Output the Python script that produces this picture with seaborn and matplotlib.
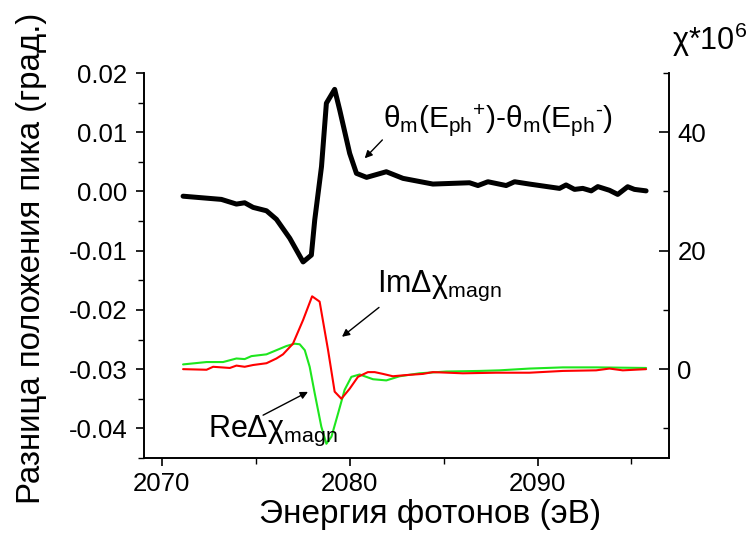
import matplotlib
matplotlib.use("Agg")
import matplotlib.pyplot as plt
from matplotlib.ticker import MultipleLocator
import seaborn as sns

# Peak-position difference (left axis, degrees)
theta_energy = [2071.13, 2073.17, 2073.97, 2074.41, 2074.86, 2075.57, 2076.10, 2076.81,
                2077.52, 2077.96, 2078.14, 2078.50, 2078.76, 2079.20, 2079.47, 2080.00,
                2080.36, 2080.90, 2081.95, 2082.84, 2084.43, 2086.38, 2086.83, 2087.36,
                2088.33, 2088.78, 2089.57, 2091.17, 2091.52, 2091.97, 2092.41, 2092.86,
                2093.21, 2093.83, 2094.27, 2094.80, 2095.16, 2095.78]
theta_diff = [-0.0008, -0.00134, -0.00213, -0.00191, -0.00269, -0.00326, -0.0047, -0.0079,
              -0.0119, -0.01074, -0.0048, 0.0042, 0.0149, 0.01724, 0.01375, 0.00643,
              0.00306, 0.00238, 0.00333, 0.00221, 0.00125, 0.00147, 0.0010, 0.00164,
              0.0010, 0.00164, 0.00125, 0.00052, 0.0011, 0.00035, 0.00052, 0.0001,
              0.00082, 0.0002, -0.0005, 0.0008, 0.00035, 0.0001]

# Imaginary part of magnetic susceptibility change (right axis, x1e6)
im_energy = [2071.13, 2072.38, 2072.73, 2073.62, 2073.97, 2074.41, 2074.86, 2075.57,
             2076.10, 2076.45, 2076.98, 2077.52, 2078.00, 2078.40, 2078.85, 2079.20,
             2079.56, 2080.00, 2080.44, 2080.97, 2081.33, 2081.77, 2082.30, 2083.00,
             2083.90, 2084.43, 2086.03, 2087.80, 2089.57, 2091.35, 2093.12, 2093.83,
             2094.54, 2095.78]
im_chi = [0.0, -0.1, 0.4, 0.2, 0.6, 0.4, 0.7, 1.0,
          1.8, 2.5, 4.3, 8.3, 12.3, 11.4, 3.2, -3.8,
          -5.0, -3.3, -1.3, -0.5, -0.5, -0.8, -1.2, -1.0,
          -0.8, -0.5, -0.7, -0.6, -0.6, -0.3, -0.2, 0.1,
          -0.2, 0.0]

# Real part of magnetic susceptibility change (right axis, x1e6)
re_energy = [2071.13, 2072.38, 2073.26, 2073.97, 2074.41, 2074.77, 2075.57, 2076.10,
             2076.63, 2077.07, 2077.34, 2077.61, 2077.87, 2078.14, 2078.49, 2078.76,
             2079.03, 2079.38, 2079.73, 2080.09, 2080.53, 2081.24, 2081.95, 2082.66,
             2083.72, 2085.14, 2086.91, 2087.98, 2089.57, 2091.35, 2093.12, 2095.78]
re_chi = [0.8, 1.2, 1.2, 1.8, 1.7, 2.2, 2.5, 3.2,
          3.9, 4.3, 4.2, 3.2, 0.4, -4.1, -9.7, -12.6,
          -11.4, -7.5, -3.5, -1.3, -0.9, -1.7, -1.9, -1.2,
          -0.7, -0.4, -0.3, -0.2, 0.1, 0.3, 0.3, 0.2]

x_ticks = [2070, 2080, 2090]
left_ticks = [0.02, 0.01, 0.00, -0.01, -0.02, -0.03, -0.04]
left_ticklabels = ["0.02", "0.01", "0.00", "-0.01", "-0.02", "-0.03", "-0.04"]
right_ticks = [0, 20, 40]

sns.set_style("ticks")
plt.rcParams["font.family"] = ["Liberation Sans", "DejaVu Sans"]
plt.rcParams["mathtext.default"] = "regular"
plt.rcParams["text.color"] = "black"
plt.rcParams["axes.labelcolor"] = "black"
plt.rcParams["xtick.color"] = "black"
plt.rcParams["ytick.color"] = "black"

fig = plt.figure(figsize=(7.53, 5.35), dpi=100)
W, H = 753, 535
ax = fig.add_axes([144 / W, 1 - 458 / H, (669 - 144) / W, (458 - 73) / H])
ax2 = ax.twinx()

sns.lineplot(x=theta_energy, y=theta_diff, ax=ax, color="black", lw=3.6, estimator=None)
sns.lineplot(x=re_energy, y=re_chi, ax=ax2, color="#1ee61e", lw=1.5, estimator=None)
sns.lineplot(x=im_energy, y=im_chi, ax=ax2, color="#ff0000", lw=1.5, estimator=None)

ax.set_xlim(2069.05, 2097.0)
ax.set_ylim(-0.045, 0.02)
ax2.set_ylim(-15, 50)

ax.set_xticks(x_ticks)
ax.set_xticklabels([str(t) for t in x_ticks])
ax.xaxis.set_minor_locator(MultipleLocator(5))
ax.set_yticks(left_ticks)
ax.set_yticklabels(left_ticklabels)
ax.yaxis.set_minor_locator(MultipleLocator(0.005))
ax2.set_yticks(right_ticks)
ax2.set_yticklabels([str(t) for t in right_ticks])
ax2.yaxis.set_minor_locator(MultipleLocator(10))

for a in (ax, ax2):
    a.spines["top"].set_visible(False)
    for s in a.spines.values():
        s.set_linewidth(1.2)
        s.set_color("black")

ax.tick_params(axis="both", which="major", direction="out", length=6, width=1.2,
               labelsize=18.5, pad=5)
ax.tick_params(axis="y", which="major", pad=6)
ax.tick_params(axis="x", which="major", pad=4)
ax.tick_params(axis="both", which="minor", direction="out", length=4, width=1.0)
ax.tick_params(axis="y", which="both", right=False)
ax2.tick_params(axis="y", which="major", direction="in", length=7, width=1.2,
                labelsize=18.5, pad=6)
ax2.tick_params(axis="y", which="minor", direction="in", length=4, width=1.0)

ax.set_xlabel("Энергия фотонов (эВ)", fontsize=24)
ax.xaxis.label.set_va("baseline")
ax.xaxis.set_label_coords((430 - 144) / 525, (458 - 523) / 385)
ax.set_ylabel("Разница положения пика (град.)", fontsize=23.8)
ax.yaxis.label.set_va("center")
ax.yaxis.set_label_coords((32 - 144) / 525, (458 - 258) / 385)
ax2.set_ylabel("")

fig.text(672 / W, 1 - 50 / H, r"$\chi$*10$^{6}$", fontsize=22, ha="left", va="baseline")

arrow = dict(arrowstyle="-|>", color="black", lw=1.0, mutation_scale=11, shrinkA=0, shrinkB=0)

ax.text(2081.76, 0.0107, "$\\theta_{m}({E_{ph}}^{+})$-$\\theta_{m}({E_{ph}}^{\u2010})$",
        fontsize=21.5, ha="left", va="baseline")
ax.annotate("", xy=(2080.8, 0.0056), xytext=(2081.74, 0.0087), arrowprops=arrow)

ax2.text(2081.44, 13.0, r"Im$\Delta\chi_{magn}$", fontsize=22, ha="left", va="baseline")
ax2.annotate("", xy=(2079.59, 5.46), xytext=(2081.56, 10.42), arrowprops=arrow)

ax2.text(2072.45, -11.4, r"Re$\Delta\chi_{magn}$", fontsize=22, ha="left", va="baseline")
ax2.annotate("", xy=(2077.78, -3.83), xytext=(2075.39, -7.77), arrowprops=arrow)

fig.savefig("out.png", dpi=100)
